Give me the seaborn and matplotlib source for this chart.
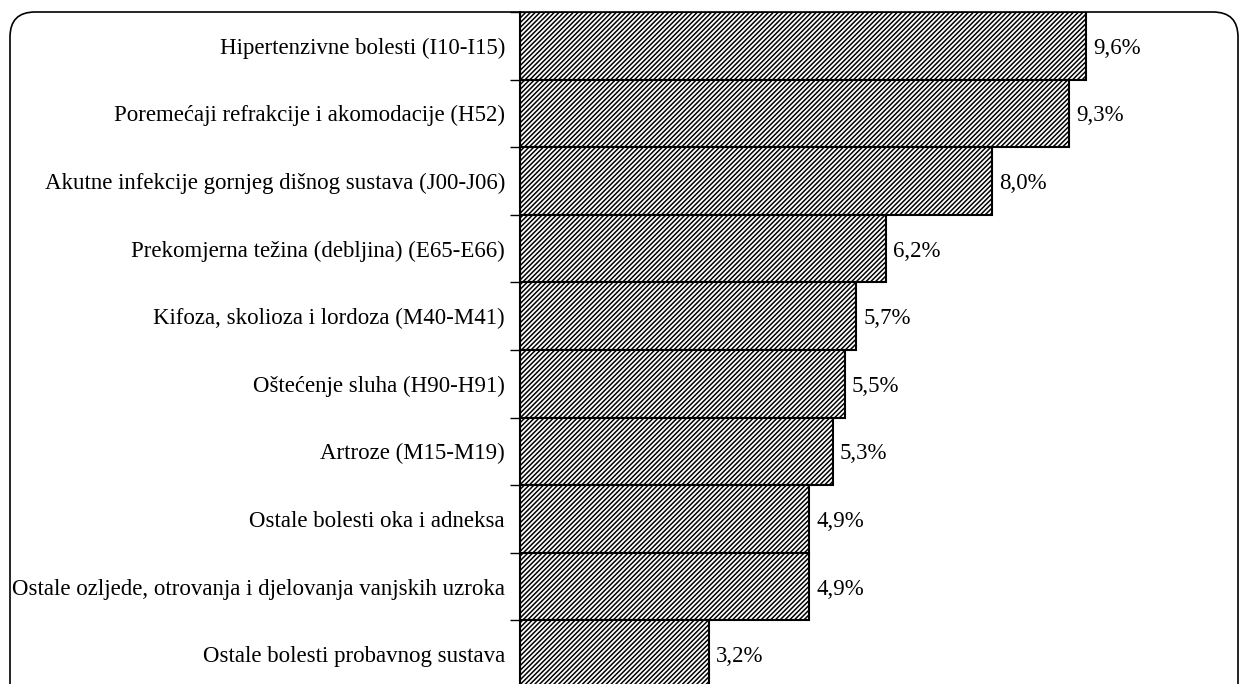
import matplotlib
matplotlib.use("Agg")
import matplotlib.pyplot as plt
import seaborn as sns
from matplotlib.patches import FancyBboxPatch
from matplotlib.transforms import IdentityTransform

# podaci
kategorije = [
    "Hipertenzivne bolesti (I10-I15)",
    "Poremećaji refrakcije i akomodacije (H52)",
    "Akutne infekcije gornjeg dišnog sustava (J00-J06)",
    "Prekomjerna težina (debljina) (E65-E66)",
    "Kifoza, skolioza i lordoza (M40-M41)",
    "Oštećenje sluha (H90-H91)",
    "Artroze (M15-M19)",
    "Ostale bolesti oka i adneksa",
    "Ostale ozljede, otrovanja i djelovanja vanjskih uzroka",
    "Ostale bolesti probavnog sustava",
]
udjeli = [9.6, 9.3, 8.0, 6.2, 5.7, 5.5, 5.3, 4.9, 4.9, 3.2]

sns.set_style("white")
plt.rcParams["font.family"] = ["Liberation Serif", "DejaVu Serif"]
plt.rcParams["hatch.linewidth"] = 1.1
plt.rcParams["text.color"] = "black"
plt.rcParams["ytick.labelcolor"] = "black"

W, H = 1240, 684
fig = plt.figure(figsize=(12.4, 6.84), dpi=100)
ax = fig.add_axes([520 / W, (H - 688) / H, (1228 - 520) / W, 676 / H])

sns.barplot(x=udjeli, y=kategorije, orient="h", width=1.0, color="white",
            edgecolor="black", linewidth=1.5, ax=ax)
for p in ax.patches:
    p.set_hatch("///////")

ax.set_xlim(0, 12)
ax.set_ylim(len(kategorije) - 0.5, -0.5)
ax.set_xticks([])
for s in ["top", "right", "bottom"]:
    ax.spines[s].set_visible(False)
ax.spines["left"].set_linewidth(1.5)
ax.spines["left"].set_color("black")

ax.tick_params(axis="y", which="major", left=False, length=0, pad=10.8,
               labelsize=16.5, labelcolor="black")
ax.set_yticks([i + 0.5 for i in range(len(kategorije) - 1)] + [-0.5], minor=True)
ax.tick_params(axis="y", which="minor", left=True, length=7, width=1,
               direction="out", color="black")

for i, v in enumerate(udjeli):
    ax.text(v + 0.12, i, f"{v:.1f}%".replace(".", ","), va="center_baseline",
            ha="left", fontsize=16.5, color="black")

okvir = FancyBboxPatch((10, -60), 1228, (H - 12) + 60,
                       boxstyle="round,pad=0,rounding_size=25",
                       transform=IdentityTransform(), fill=False,
                       edgecolor="black", linewidth=1.2, zorder=0)
fig.patches.append(okvir)

fig.savefig("out.png", dpi=100)
